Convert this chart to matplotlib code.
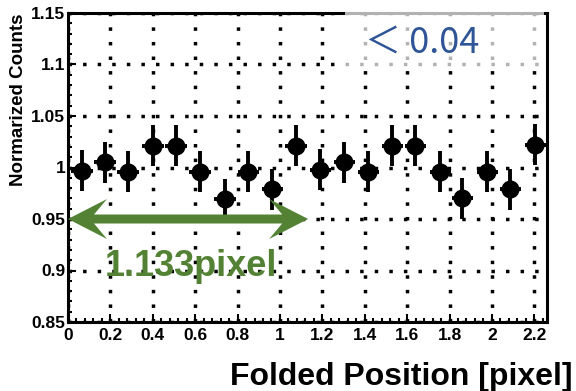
import matplotlib
matplotlib.use("Agg")
import matplotlib.pyplot as plt
from matplotlib.patches import Polygon, Rectangle
from matplotlib.transforms import IdentityTransform
from matplotlib.ticker import FixedLocator, MultipleLocator

# Folded position (bin centres, pixel units) and normalized counts
folded_pos = [0.066, 0.175, 0.283, 0.401, 0.510, 0.623, 0.741, 0.850, 0.963, 1.076,
              1.190, 1.303, 1.416, 1.530, 1.638, 1.756, 1.860, 1.978, 2.087, 2.205]
norm_counts = [0.997, 1.005, 0.996, 1.021, 1.021, 0.996, 0.969, 0.996, 0.979, 1.021,
               0.998, 1.005, 0.996, 1.021, 1.021, 0.996, 0.970, 0.996, 0.979, 1.022]
count_err = [0.02] * 20
pos_err = [0.05] * 20

x_ticks = [0, 0.2, 0.4, 0.6, 0.8, 1.0, 1.2, 1.4, 1.6, 1.8, 2.0, 2.2]
x_tick_labels = ["0", "0.2", "0.4", "0.6", "0.8", "1", "1.2", "1.4", "1.6", "1.8", "2", "2.2"]
y_ticks = [0.85, 0.9, 0.95, 1.0, 1.05, 1.1, 1.15]
y_tick_labels = ["0.85", "0.9", "0.95", "1", "1.05", "1.1", "1.15"]

pixel_size = 1.133
arrow_level = 0.95
limit_text = "＜ 0.04"

W, H, DPI = 576, 391, 100
fig = plt.figure(figsize=(W / DPI, H / DPI), dpi=DPI)
fig.patch.set_facecolor("white")

L, R, T, B = 68, 547, 13, 322
ax = fig.add_axes([L / W, 1 - B / H, (R - L) / W, (B - T) / H])
ax.set_xlim(0, 2.26)
ax.set_ylim(0.85, 1.15)

bold = dict(family="Liberation Sans", weight="bold")

ax.xaxis.set_major_locator(FixedLocator(x_ticks))
ax.set_xticklabels(x_tick_labels, fontsize=12.5, **bold)
ax.xaxis.set_minor_locator(MultipleLocator(0.04))
ax.yaxis.set_major_locator(FixedLocator(y_ticks))
ax.set_yticklabels(y_tick_labels, fontsize=12.5, **bold)
ax.yaxis.set_minor_locator(MultipleLocator(0.01))

ax.tick_params(which="both", direction="in", top=False, right=False, width=1.5, color="black")
ax.tick_params(which="major", length=5.5)
ax.tick_params(which="minor", length=3)
ax.tick_params(axis="x", which="major", pad=4)
ax.tick_params(axis="y", which="major", pad=2)

for sp in ax.spines.values():
    sp.set_linewidth(2.2)
    sp.set_color("black")

ax.grid(True, which="major", color="black", linestyle=(0, (1, 3.2)), linewidth=2.5,
        dash_capstyle="butt")
ax.set_axisbelow(True)

ax.errorbar(folded_pos, norm_counts, yerr=count_err, xerr=pos_err, fmt="o",
            color="black", markersize=12, elinewidth=2.8, capsize=0, zorder=4)

# faded white box behind the upper-right annotation
ax.add_patch(Rectangle((1.308, 1.0976), 0.939, 0.056, facecolor="white", alpha=0.7,
                       edgecolor="none", clip_on=False, zorder=3))

fig.text(365 / W, 1 - 53 / H, limit_text, color="#2F5597", fontsize=26,
         family=["Noto Sans CJK JP", "DejaVu Sans"], ha="left", va="baseline")

# double-headed arrow spanning one pixel width
x0, y0 = ax.transData.transform((0, arrow_level))
x1, _ = ax.transData.transform((pixel_size, arrow_level))
hl, hw, notch, t = 39, 20, 13, 4.5
verts = [
    (x0, y0), (x0 + hl, y0 + hw), (x0 + hl - notch, y0 + t),
    (x1 - hl + notch, y0 + t), (x1 - hl, y0 + hw), (x1, y0),
    (x1 - hl, y0 - hw), (x1 - hl + notch, y0 - t),
    (x0 + hl - notch, y0 - t), (x0 + hl, y0 - hw),
]
fig.add_artist(Polygon(verts, closed=True, facecolor="#548235", edgecolor="none",
                       transform=IdentityTransform(), zorder=5))

fig.text(105 / W, 1 - 276 / H, "1.133pixel", color="#548235", fontsize=26,
         ha="left", va="baseline", **bold)

fig.text(19 / W, 1 - 13 / H, "Normarized Counts", rotation=90, fontsize=13.5,
         ha="center", va="top", **bold)
fig.text(573 / W, 1 - 385 / H, "Folded Position [pixel]", fontsize=23,
         ha="right", va="baseline", **bold)

fig.savefig("out.png", dpi=DPI)
